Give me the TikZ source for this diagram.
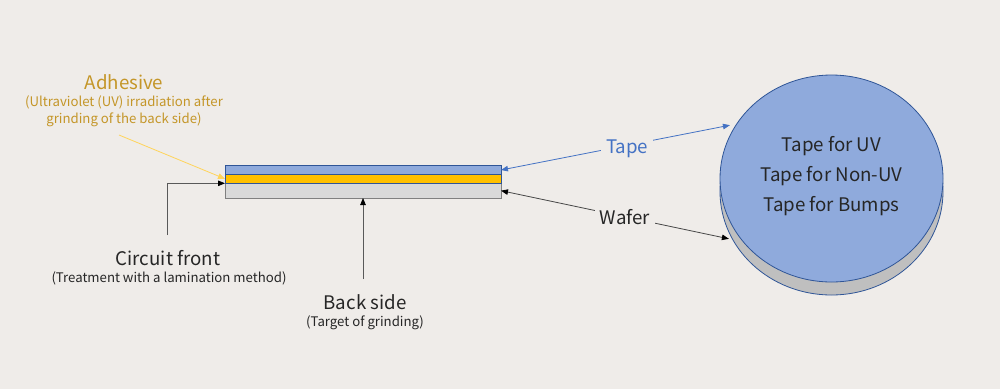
\documentclass[tikz,border=0pt]{standalone}
\usepackage{fontspec}
\setmainfont{Noto Sans CJK KR}
\definecolor{bgpaper}{RGB}{239,236,233}
\definecolor{tapeblue}{RGB}{143,170,220}
\definecolor{tapeedge}{RGB}{47,85,151}
\definecolor{tapetext}{RGB}{68,114,196}
\definecolor{glueyellow}{RGB}{255,192,0}
\definecolor{gluetext}{RGB}{196,150,40}
\definecolor{gluearrow}{RGB}{255,212,90}
\definecolor{wafergray}{RGB}{217,217,217}
\definecolor{waferedge}{RGB}{128,128,128}
\definecolor{sidegray}{RGB}{191,191,191}
\definecolor{inkdark}{RGB}{38,38,38}
\definecolor{linegray}{RGB}{89,89,89}
\usetikzlibrary{arrows.meta,positioning,shapes.geometric}

\begin{document}
\begin{tikzpicture}[
  x=1pt, y=-1pt,
  every node/.style={text=inkdark},
  bigtxt/.style={font=\fontsize{18.7}{22}\selectfont, inner sep=0pt, anchor=base},
  smalltxt/.style={font=\fontsize{13.2}{17}\selectfont, inner sep=0pt, anchor=base, align=center},
  layer/.style={draw, minimum width=276pt, inner sep=0pt, outer sep=0pt, line width=0.8pt},
  disc/.style={ellipse, draw=tapeedge, minimum width=223pt, minimum height=207pt,
               inner sep=0pt, outer sep=0pt, line width=0.8pt},
  arr/.style={-{Triangle[length=7pt,width=5.5pt]}, line width=0.8pt},
  darkarr/.style={-{Triangle[length=7pt,width=5.5pt,color=black]}, line width=0.8pt},
  cutout/.style={fill=bgpaper, inner sep=5pt, font=\fontsize{18.7}{22}\selectfont},
]
  % Paper
  \fill[bgpaper] (0,0) rectangle (1000,389);

  % Labels on the left
  \node[bigtxt, text=gluetext] (adhesive) at (124,89.5) {Adhesive};
  \node[smalltxt, text=gluetext, anchor=center] (adhesivenote) at (124,111.5)
    {(Ultraviolet (UV) irradiation after\\grinding of the back side)};
  \node[bigtxt] (circuit) at (168,265) {Circuit front};
  \node[smalltxt] (circuitnote) at (169,282.5) {(Treatment with a lamination method)};
  \node[bigtxt] (backside) at (365,309) {Back side};
  \node[smalltxt] (backsidenote) at (365,326) {(Target of grinding)};

  % Laminated strip
  \node[layer, fill=wafergray, draw=waferedge, minimum height=14.7pt] (wafer) at (363,190.65) {};
  \node[layer, fill=glueyellow, draw=tapeedge, minimum height=9pt] (glue) at (363,178.8) {};
  \node[layer, fill=tapeblue, draw=tapeedge, minimum height=8.6pt] (tapelayer) at (363,170) {};

  % Tape roll
  \node[disc, fill=sidegray] (diskside) at (831.5,191.5) {};
  \node[disc, fill=tapeblue] (disk) at (831.5,178.5) {};
  \node[font=\fontsize{18.7}{30}\selectfont, align=center] (disklist) at (831.5,176.5)
    {Tape for UV\\Tape for Non-UV\\Tape for Bumps};

  % Connectors
  \coordinate (adhtail) at (119,135);
  \coordinate (circuittail) at (167,235);
  \coordinate (backtail) at (363,279);
  \draw[arr, gluearrow] (adhtail) -- (glue.west);
  \draw[darkarr, linegray] (circuittail) |- (glue.south west);
  \draw[darkarr, linegray] (backtail) -- (wafer.south);

  \draw[{Triangle[length=7pt,width=5.5pt]}-{Triangle[length=7pt,width=5.5pt]},
        line width=0.8pt, tapetext, shorten >=7pt]
    (tapelayer.east) -- node[cutout, text=tapetext, pos=0.535, yshift=-3pt] (tapelabel) {Tape} (disk.150);
  \draw[{Triangle[length=7pt,width=5.5pt,color=black]}-{Triangle[length=7pt,width=5.5pt,color=black]},
        line width=0.8pt, linegray!80!black, shorten >=4pt]
    (wafer.east) -- node[cutout, pos=0.535] (waferlabel) {Wafer} (diskside.206);
\end{tikzpicture}
\end{document}
